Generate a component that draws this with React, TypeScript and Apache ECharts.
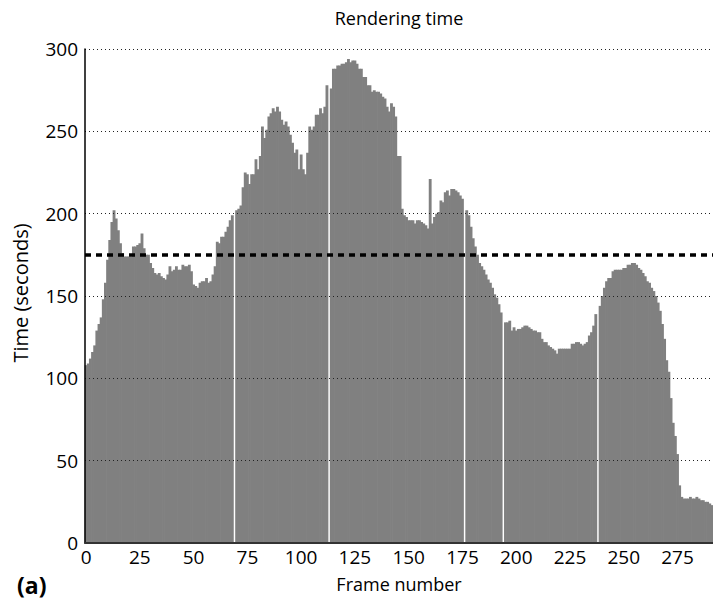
import React, { useEffect, useRef } from "react";
import * as echarts from "echarts";

// Rendering time per frame (seconds); null = missing frame (white gap)
const renderTimes: (number | null)[] = [
  108, 109, 112, 116, 120, 129, 133, 137, 148, 158,
  172, 184, 195, 202, 197, 190, 182, 176, 174, 174,
  174, 174, 180, 180, 181, 182, 188, 179, 175, 175,
  170, 167, 164, 163, 164, 162, 161, 160, 163, 168,
  165, 166, 168, 166, 166, 169, 168, 168, 169, 165,
  157, 156, 155, 158, 159, 159, 161, 158, 159, 163,
  168, 183, 182, 186, 186, 189, 192, 196, 199, null,
  202, 203, 205, 216, 225, 224, 218, 224, 224, 233,
  227, 235, 253, 246, 251, 259, 261, 264, 262, 265,
  262, 257, 254, 256, 253, 248, 243, 237, 239, 227,
  236, 227, 224, 237, 253, 251, 253, 260, 260, 264,
  261, 265, 278, null, 276, 288, 288, 290, 290, 291,
  291, 292, 294, 292, 293, 293, 291, 288, 288, 283,
  283, 278, 278, 274, 275, 274, 274, 273, 271, 270,
  265, 262, 267, 265, 259, 235, 235, 203, 199, 198,
  196, 196, 196, 194, 196, 196, 195, 194, 193, 191,
  221, 194, 198, 200, 201, 208, 207, 213, 214, 211,
  215, 215, 214, 213, 211, 209, null, 202, 199, 192,
  185, 180, 175, 170, 168, 166, 163, 160, 158, 155,
  151, 149, 145, 140, null, 134, 134, 135, 129, 131,
  129, 130, 130, 131, 132, 132, 131, 130, 129, 129,
  128, 128, 124, 122, 122, 120, 119, 118, 117, 115,
  118, 118, 118, 118, 118, 118, 121, 121, 122, 122,
  121, 120, 121, 122, 126, 128, 132, 139, null, 144,
  150, 155, 159, 161, 161, 165, 166, 166, 166, 166,
  167, 167, 169, 169, 170, 170, 169, 167, 166, 164,
  162, 159, 158, 155, 153, 150, 146, 141, 133, 124,
  111, 104, 88, 73, 65, 54, 35, 28, 27, 27,
  27, 28, 27, 27, 28, 27, 26, 26, 25, 25,
  24, 23,
];

const frameNumbers: string[] = renderTimes.map((_, i) => String(i));
const xTickLabels: number[] = [0, 25, 50, 75, 100, 125, 150, 175, 200, 225, 250, 275];
const yTicks: number[] = [0, 50, 100, 150, 200, 250, 300];
const meanTime = 175;

const FONT = "'Open Sans', 'DejaVu Sans', sans-serif";
const BAR_COLOR = "#808080";

export default function App() {
  const ref = useRef<HTMLDivElement>(null);

  useEffect(() => {
    document.body.style.margin = "0";
    if (!ref.current) return;
    const chart = echarts.init(ref.current, undefined, { renderer: "svg" });

    const barData = renderTimes.map((v, i) => [i, v == null ? NaN : v]);

    chart.setOption({
      animation: false,
      backgroundColor: "#ffffff",
      textStyle: { fontFamily: FONT },
      grid: { left: 85, right: 0, top: 49, bottom: 58, containLabel: false },
      xAxis: {
        type: "category",
        data: frameNumbers,
        boundaryGap: true,
        axisLine: { show: true, lineStyle: { color: "#333333", width: 2 } },
        axisTick: { show: false },
        axisLabel: {
          interval: (i: number) => xTickLabels.includes(i),
          fontSize: 19,
          color: "#000",
          margin: 4,
          fontFamily: FONT,
        },
        splitLine: { show: false },
        z: 5,
      },
      yAxis: {
        type: "value",
        min: yTicks[0],
        max: yTicks[yTicks.length - 1],
        interval: 50,
        axisLine: { show: true, lineStyle: { color: "#000", width: 1.5 } },
        axisTick: { show: false },
        axisLabel: { fontSize: 19, color: "#000", margin: 7, fontFamily: FONT },
        splitLine: {
          show: true,
          lineStyle: { color: "#222", width: 1, type: [1, 3] },
        },
        z: 5,
      },
      series: [
        {
          type: "custom",
          name: "Rendering time",
          data: barData,
          encode: { x: 0, y: 1 },
          clip: false,
          renderItem: (params: any, api: any) => {
            const v = api.value(1);
            if (v == null || isNaN(v)) return null;
            const top = api.coord([api.value(0), v]);
            const base = api.coord([api.value(0), 0]);
            const w = api.size([1, 0])[0];
            return {
              type: "rect",
              shape: {
                x: top[0] - w / 2 - 0.35,
                y: top[1],
                width: w + 0.7,
                height: base[1] - top[1],
              },
              style: { fill: BAR_COLOR },
            };
          },
          z: 2,
        },
        {
          type: "line",
          name: "Mean",
          data: [],
          symbol: "none",
          markLine: {
            silent: true,
            symbol: ["none", "none"],
            label: { show: false },
            lineStyle: { color: "#000", width: 3.5, type: [6, 5] },
            data: [{ yAxis: meanTime }],
          },
          z: 10,
        },
      ],
      graphic: [
        {
          type: "text",
          x: 399,
          y: 18,
          style: {
            text: "Rendering time",
            fontSize: 18,
            fontFamily: FONT,
            fill: "#000",
            align: "center",
            verticalAlign: "middle",
          },
        },
        {
          type: "text",
          x: 20,
          y: 293,
          rotation: Math.PI / 2,
          style: {
            text: "Time (seconds)",
            fontSize: 20,
            fontFamily: FONT,
            fill: "#000",
            align: "center",
            verticalAlign: "middle",
          },
        },
        {
          type: "text",
          x: 399,
          y: 584,
          style: {
            text: "Frame number",
            fontSize: 18,
            fontFamily: FONT,
            fill: "#000",
            align: "center",
            verticalAlign: "middle",
          },
        },
        {
          type: "text",
          x: 17,
          y: 585,
          style: {
            text: "(a)",
            fontSize: 23,
            fontWeight: "bold",
            fontFamily: FONT,
            fill: "#000",
            align: "left",
            verticalAlign: "middle",
          },
        },
      ],
    });
    return () => chart.dispose();
  }, []);

  return <div ref={ref} style={{ width: 713, height: 601 }} />;
}
